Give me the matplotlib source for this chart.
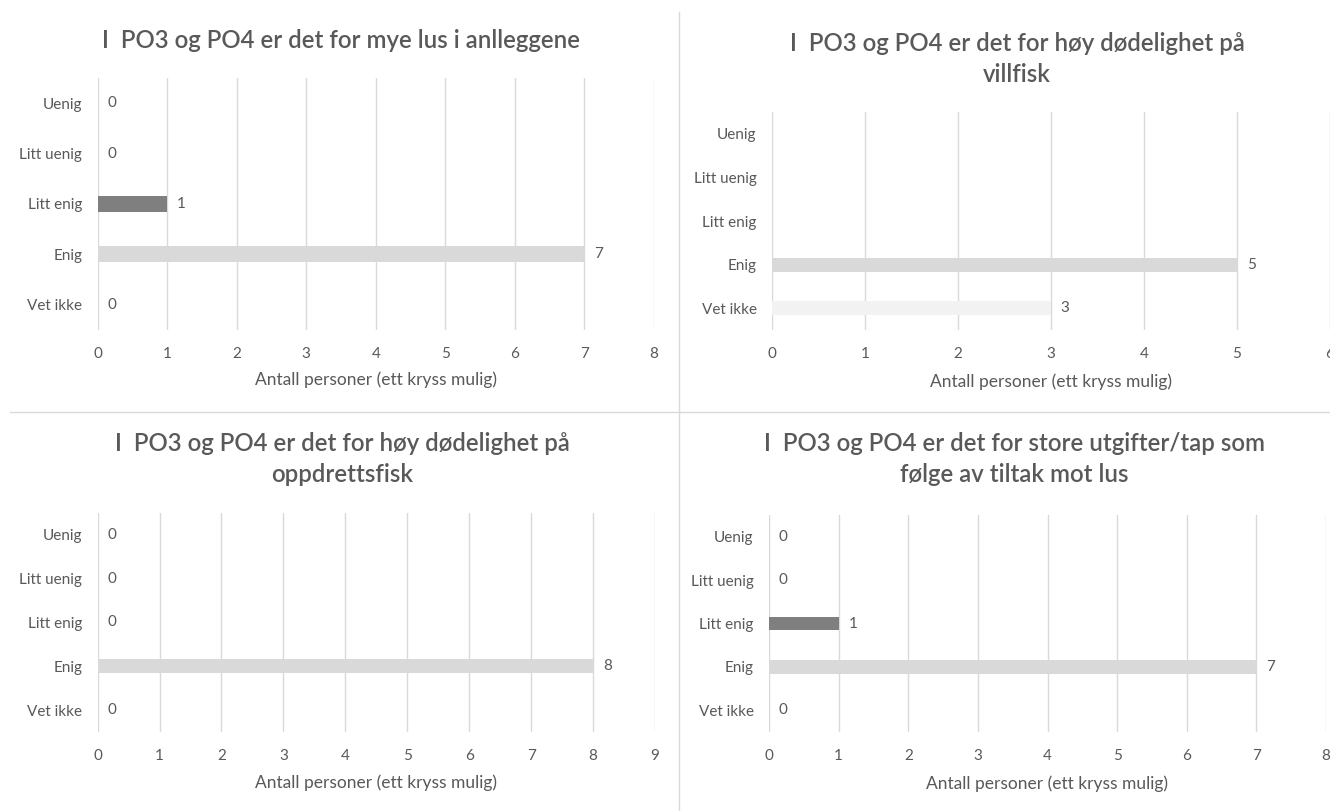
import numpy as np
import matplotlib
matplotlib.use("Agg")
import matplotlib.pyplot as plt
from matplotlib.lines import Line2D

plt.rcParams['font.family'] = ['Lato', 'DejaVu Sans']

W, H = 1330, 811
TXT = '#595959'
GRID = '#d9d9d9'

categories = ['Uenig', 'Litt uenig', 'Litt enig', 'Enig', 'Vet ikke']
bar_colors = ['#404040', '#595959', '#7f7f7f', '#d9d9d9', '#f2f2f2']
xlabel = 'Antall personer (ett kryss mulig)'

titles = [
    'I  PO3 og PO4 er det for mye lus i anlleggene',
    'I  PO3 og PO4 er det for høy dødelighet på\nvillfisk',
    'I  PO3 og PO4 er det for høy dødelighet på\noppdrettsfisk',
    'I  PO3 og PO4 er det for store utgifter/tap som\nfølge av tiltak mot lus',
]

# antall svar per kategori (nan = ingen verdi)
lus_anlegg = [0, 0, 1, 7, 0]
dod_villfisk = [np.nan, np.nan, np.nan, 5, 3]
dod_oppdrett = [0, 0, 0, 8, 0]
utgifter = [0, 0, 1, 7, 0]
series = [lus_anlegg, dod_villfisk, dod_oppdrett, utgifter]
xmax = [8, 6, 9, 8]

# plassering i piksler: x0, x1, ytopp, ybunn, tittel-senter x, tittel y, x-etikett y
layout = [
    (97.6, 654, 78, 330, 341, 40, 380),
    (772, 1330, 112, 330, 1017, 59, 382),
    (97.6, 655, 513, 732, 342, 459, 783),
    (769, 1326, 515, 732, 1014, 459, 784),
]

fig = plt.figure(figsize=(W / 100, H / 100), dpi=100)

for vals, xm, title, (x0, x1, yt, yb, tx, ty, ly) in zip(series, xmax, titles, layout):
    ax = fig.add_axes([x0 / W, 1 - yb / H, (x1 - x0) / W, (yb - yt) / H])
    y = np.arange(len(categories))
    v = np.nan_to_num(np.array(vals, dtype=float))
    ax.barh(y, v, height=0.32, color=bar_colors, zorder=3)
    for yi, val in zip(y, vals):
        if np.isnan(val):
            continue
        ax.annotate(f'{int(val)}', (val, yi), xytext=(7, 0), textcoords='offset points',
                    va='center', ha='left', fontsize=11, color=TXT)
    ax.set_xlim(0, xm)
    ax.set_ylim(len(categories) - 0.5, -0.5)
    ax.set_xticks(range(xm + 1))
    ax.set_yticks(y)
    ax.set_yticklabels(categories)
    ax.grid(axis='x', color=GRID, linewidth=1.0, zorder=0)
    ax.tick_params(length=0, labelsize=11, labelcolor=TXT)
    ax.tick_params(axis='x', pad=12)
    ax.tick_params(axis='y', pad=11)
    for s in ax.spines.values():
        s.set_visible(False)
    ax.set_facecolor('none')
    fig.text(tx / W, 1 - ty / H, title, ha='center', va='center', fontsize=17.3,
             fontweight='semibold', color=TXT, linespacing=1.42)
    fig.text(((x0 + x1) / 2) / W, 1 - ly / H, xlabel, ha='center', va='center',
             fontsize=12.5, color=TXT)

# rammer mellom diagrammene
fig.add_artist(Line2D([679 / W, 679 / W], [1 - 12 / H, 0], color=GRID, linewidth=1))
fig.add_artist(Line2D([10 / W, 1], [1 - 412 / H, 1 - 412 / H], color=GRID, linewidth=1))

fig.savefig('out.png', dpi=100)
